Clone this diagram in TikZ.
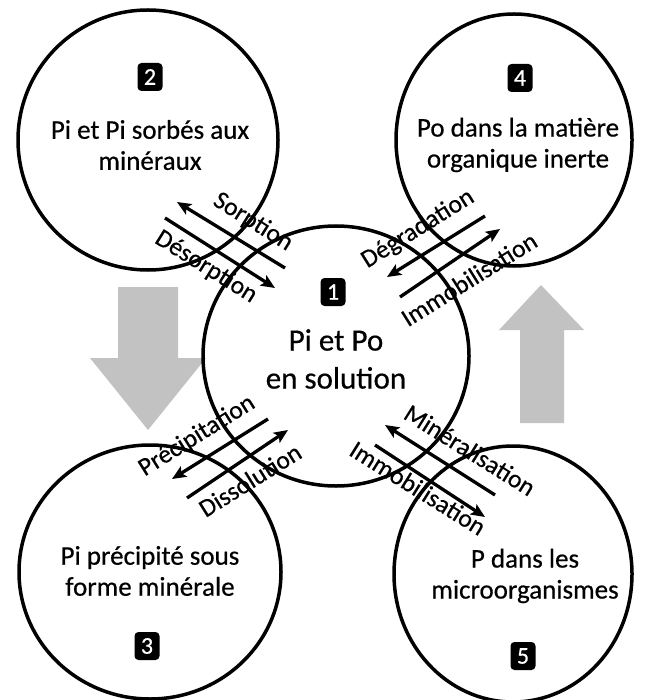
\documentclass[tikz,border=0pt]{standalone}
\usepackage{fontspec}
\setmainfont{Carlito}[FakeBold=0.5]
\usetikzlibrary{arrows.meta,shapes.geometric}
\begin{document}
\begin{tikzpicture}[x=1pt,y=-1pt,
  ring/.style={ellipse, draw, line width=3.5pt, inner sep=0pt},
  ctext/.style={align=center, font=\fontsize{27}{31}\selectfont},
  badge/.style={fill=black, text=white, rounded corners=4pt, minimum width=25pt, minimum height=28pt, inner sep=0pt, font=\fontsize{24}{24}\selectfont},
  flow/.style={line width=3.3pt, -{Stealth[length=14pt,width=12pt,inset=3pt]}},
  lbl/.style={font=\fontsize{25.5}{25}\selectfont, inner sep=0pt},
  big/.style={fill=black!24, draw=none}
]
\useasboundingbox (0,0) rectangle (654,700);
% big grey arrows
\fill[big] (118,287) -- (178,287) -- (178,358) -- (206,358) -- (148,430) -- (90,358) -- (118,358) -- cycle;
\fill[big] (541,285) -- (584,330) -- (564,330) -- (564,423) -- (520,423) -- (520,330) -- (499,330) -- cycle;
% circles
\node[ring, minimum width=260pt, minimum height=260pt] (c2) at (148,140) {};
\node[ring, minimum width=236pt, minimum height=252pt] (c4) at (514,140) {};
\node[ring, minimum width=266pt, minimum height=260pt] (c1) at (336,356) {};
\node[ring, minimum width=262pt, minimum height=254pt] (c3) at (150,572) {};
\node[ring, minimum width=238pt, minimum height=256pt] (c5) at (513,574) {};
% texts
\node[ctext] (t2) at (150,145) {Pi et Pi sorbés aux\\minéraux};
\node[ctext] (t4) at (518,145) {Po dans la matière\\organique inerte};
\node[ctext, font=\fontsize{31}{38}\selectfont] (t1) at (336,359) {Pi et Po\\en solution};
\node[ctext] (t3) at (150,571) {Pi précipité sous\\forme minérale};
\node[ctext] (t5) at (525,576) {P dans les\\microorganismes};
% badges
\node[badge] (b1) at (333,292) {1};
\node[badge] (b2) at (150,77) {2};
\node[badge] (b3) at (147,646) {3};
\node[badge] (b4) at (520,78) {4};
\node[badge] (b5) at (523,656) {5};
% flow arrows
\coordinate (sa) at (285,268); \coordinate (sb) at (177,202);
\coordinate (da) at (165,218); \coordinate (db) at (275,288);
\coordinate (ga) at (485,216); \coordinate (gb) at (387,277);
\coordinate (ia) at (400,297); \coordinate (ib) at (500,229);
\coordinate (pa) at (268,419); \coordinate (pb) at (172,479);
\coordinate (oa) at (187,498); \coordinate (ob) at (288,430);
\coordinate (ma) at (495,495); \coordinate (mb) at (385,425);
\coordinate (ja) at (375,445); \coordinate (jb) at (485,517);
\draw[flow] (sa) -- (sb);
\draw[flow] (da) -- (db);
\draw[flow] (ga) -- (gb);
\draw[flow] (ia) -- (ib);
\draw[flow] (pa) -- (pb);
\draw[flow] (oa) -- (ob);
\draw[flow] (ma) -- (mb);
\draw[flow] (ja) -- (jb);
% labels
\node[lbl, rotate=-32] (lsorp) at (253,222) {Sorption};
\node[lbl, rotate=-32] (ldes) at (206,267) {Désorption};
\node[lbl, rotate=32] (ldeg) at (418,229) {Dégradation};
\node[lbl, rotate=32] (limm1) at (469,279) {Immobilisation};
\node[lbl, rotate=32] (lpre) at (197,436) {Précipitation};
\node[lbl, rotate=32] (ldis) at (250,480) {Dissolution};
\node[lbl, rotate=-32] (lmin) at (470,450) {Minéralisation};
\node[lbl, rotate=-32] (limm2) at (418,488) {Immobilisation};
\end{tikzpicture}
\end{document}
